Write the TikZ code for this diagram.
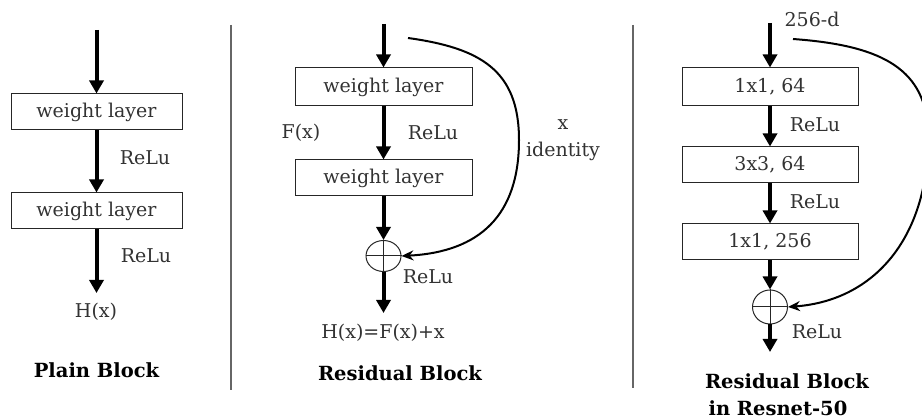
\documentclass[tikz,border=0pt]{standalone}
\usepackage{fontspec}
\setmainfont{DejaVu Serif}
\usetikzlibrary{arrows.meta,shapes.geometric}
\tikzset{
  lbl/.style={inner sep=0pt, text=black!80, font=\fontsize{19}{21}\selectfont},
  ttl/.style={inner sep=0pt, text=black, font=\fontsize{19.5}{22}\selectfont\bfseries},
  layerbox/.style={draw=black!85, line width=1pt, rectangle, inner sep=0pt, text=black!80, font=\fontsize{19}{21}\selectfont},
  thick arrow/.style={line width=4pt, -{Triangle[length=13pt,width=14pt]}},
  skip arrow/.style={line width=2pt, -{Stealth[length=12pt,width=10pt]}},
  sumnode/.style={draw=black!85, line width=1pt, ellipse, inner sep=0pt},
  sep/.style={draw=black!60, line width=1.3pt}
}
\begin{document}
\begin{tikzpicture}[x=1pt,y=-1pt]
\useasboundingbox (0,0) rectangle (922,419);
\clip (0,0) rectangle (922,419);
\fill[white] (0,0) rectangle (922,419);

% ---------- Plain block ----------
\coordinate (pin) at (96.5,30);
\node[layerbox, minimum width=171pt, minimum height=36pt] (p1) at (96.5,112) {weight layer};
\node[layerbox, minimum width=171pt, minimum height=36pt] (p2) at (96.5,211) {weight layer};
\node[lbl] (pr1) at (145,158) {ReLu};
\node[lbl] (pr2) at (146,256) {ReLu};
\coordinate (pout) at (96.5,293);
\node[lbl] (ph) at (96,312) {H(x)};
\node[ttl] (pt) at (96.5,370) {Plain Block};
\draw[thick arrow] (pin) -- (p1.north);
\draw[thick arrow] (p1.south) -- (p2.north);
\draw[thick arrow] (p2.south) -- (pout);

% separator
\coordinate (s1a) at (231,25);
\coordinate (s1b) at (231,390);
\draw[sep] (s1a) -- (s1b);

% ---------- Residual block ----------
\coordinate (rin) at (383.5,24);
\node[layerbox, minimum width=177pt, minimum height=38pt] (r1) at (383.5,87) {weight layer};
\node[layerbox, minimum width=177pt, minimum height=36pt] (r2) at (383.5,178) {weight layer};
\node[sumnode, minimum width=35pt, minimum height=31pt] (rc) at (383.5,256) {};
\draw[black!85, line width=1pt] (rc.north) -- (rc.south) (rc.west) -- (rc.east);
\node[lbl] (rf) at (301,133) {F(x)};
\node[lbl] (rr1) at (433,133) {ReLu};
\node[lbl] (rr2) at (428,277) {ReLu};
\coordinate (rout) at (383.5,313);
\node[lbl] (rh) at (383,333) {H(x)=F(x)+x};
\node[ttl] (rt) at (400,373) {Residual Block};
\node[lbl] (rx) at (563,125) {x};
\node[lbl] (rid) at (563,151) {identity};
\coordinate (rskip) at (408,38);
\draw[thick arrow] (rin) -- (r1.north);
\draw[thick arrow] (r1.south) -- (r2.north);
\draw[thick arrow] (r2.south) -- (rc.north);
\draw[thick arrow] (rc.south) -- (rout);
\draw[skip arrow] (rskip) .. controls (480,48) and (519,70) .. (519,140)
  .. controls (519,215) and (480,252) .. (rc.east);

% separator
\coordinate (s2a) at (633,25);
\coordinate (s2b) at (633,388);
\draw[sep] (s2a) -- (s2b);

% ---------- Resnet-50 block ----------
\coordinate (nin) at (770,23);
\node[lbl] (nd) at (812,19) {256-d};
\node[layerbox, minimum width=176pt, minimum height=38pt] (n1) at (770,87) {1x1, 64};
\node[layerbox, minimum width=176pt, minimum height=36pt] (n2) at (770,165) {3x3, 64};
\node[layerbox, minimum width=176pt, minimum height=36pt] (n3) at (770,242) {1x1, 256};
\node[sumnode, minimum width=35pt, minimum height=34pt] (nc) at (770,307) {};
\draw[black!85, line width=1pt] (nc.north) -- (nc.south) (nc.west) -- (nc.east);
\node[lbl] (nr1) at (815,125) {ReLu};
\node[lbl] (nr2) at (815,202) {ReLu};
\node[lbl] (nr3) at (817,332) {ReLu};
\coordinate (nout) at (770,352);
\node[ttl] (nt1) at (787,381) {Residual Block};
\node[ttl] (nt2) at (778,408) {in Resnet-50};
\coordinate (nskip) at (793,39);
\draw[thick arrow] (nin) -- (n1.north);
\draw[thick arrow] (n1.south) -- (n2.north);
\draw[thick arrow] (n2.south) -- (n3.north);
\draw[thick arrow] (n3.south) -- (nc.north);
\draw[thick arrow] (nc.south) -- (nout);
\draw[skip arrow] (nskip) .. controls (875,45) and (925,65) .. (928,130)
  .. controls (931,230) and (880,300) .. (nc.east);
\end{tikzpicture}
\end{document}
